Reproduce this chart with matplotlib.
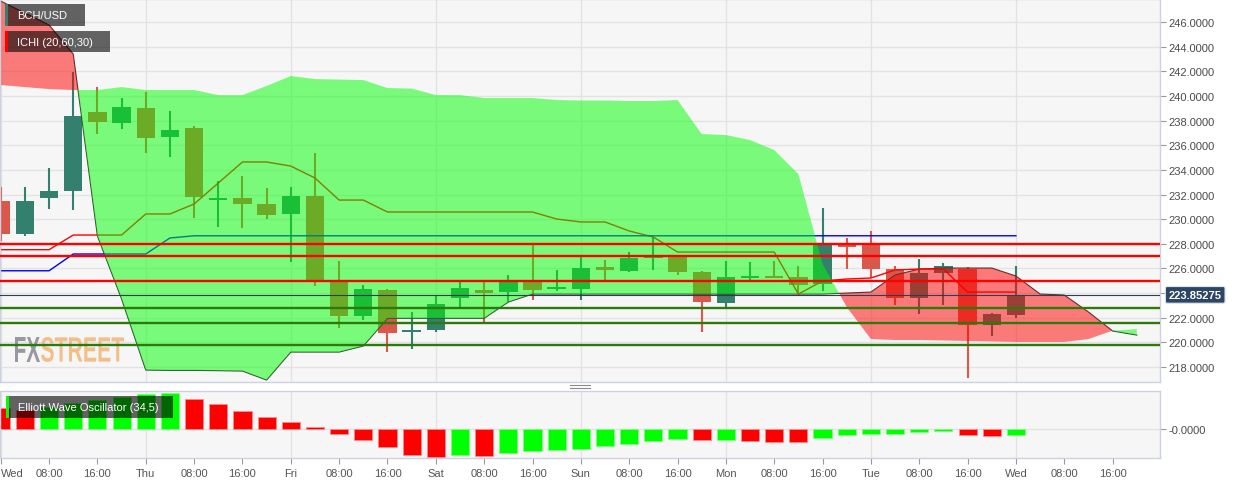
import numpy as np
import matplotlib
matplotlib.use("Agg")
import matplotlib.pyplot as plt
from matplotlib.patches import Rectangle, PathPatch
from matplotlib.lines import Line2D
from matplotlib.textpath import TextPath
from matplotlib.font_manager import FontProperties
from matplotlib.transforms import Affine2D, blended_transform_factory

W, H = 1244, 485

# 4h candles, index 0 = Wed 00:00
opens = [231.47, 228.79, 231.71, 232.31, 238.67, 237.80, 239.02, 236.64, 237.37, 231.60,
         231.71, 231.23, 230.42, 231.90, 224.92, 222.16, 224.27, 220.89, 221.00, 223.57,
         224.25, 224.06, 225.00, 224.33, 224.33, 226.09, 225.81, 226.87, 226.95, 225.68,
         223.19, 225.28, 225.36, 225.28, 224.73, 227.90, 227.92, 225.95, 223.57, 225.63,
         225.95, 221.43, 222.22]
closes = [228.79, 231.47, 232.26, 238.39, 237.91, 239.08, 236.56, 237.23, 231.77, 231.66,
          231.23, 230.33, 231.90, 225.06, 222.16, 224.33, 220.76, 220.95, 223.11, 224.38,
          224.03, 224.87, 224.27, 224.52, 226.01, 225.93, 226.84, 226.95, 225.73, 223.25,
          225.28, 225.36, 225.22, 224.68, 227.92, 227.85, 225.95, 223.60, 225.63, 226.22,
          221.43, 222.30, 223.85]
highs = [232.61, 232.61, 234.13, 241.97, 240.70, 239.83, 240.29, 238.75, 237.58, 233.12,
         233.48, 232.50, 232.58, 235.37, 226.58, 224.65, 224.33, 222.44, 223.87, 224.92,
         224.92, 225.46, 227.90, 225.89, 226.95, 226.68, 227.36, 228.52, 227.00, 225.75,
         226.63, 226.54, 226.63, 226.17, 230.90, 228.47, 229.01, 226.22, 226.76, 226.44,
         226.09, 222.35, 226.22]
lows = [228.22, 228.63, 230.82, 230.76, 236.91, 237.31, 235.37, 235.07, 230.07, 229.38,
        229.28, 230.01, 226.54, 224.60, 221.14, 221.84, 219.19, 219.46, 220.81, 222.89,
        221.63, 223.25, 223.46, 224.19, 223.46, 224.87, 225.73, 225.89, 225.46, 220.86,
        222.89, 224.87, 225.22, 223.92, 224.19, 225.95, 225.20, 223.05, 222.30, 223.05,
        217.08, 220.54, 221.95]

# ichimoku
tenkan = [227.52, 227.52, 227.52, 228.71, 228.71, 228.71, 230.42, 230.42, 231.23, 232.93,
          234.64, 234.64, 234.31, 233.34, 231.55, 231.55, 230.58, 230.58, 230.58, 230.58,
          230.58, 230.58, 230.58, 230.01, 229.77, 229.77, 229.04, 228.55, 227.33, 227.33,
          227.33, 227.33, 227.33, 223.92, 224.98, 225.14, 225.22, 225.87, 225.95, 225.95,
          224.08, 224.08, 224.08]
kijun = [225.81, 225.81, 225.81, 227.17, 227.17, 227.17, 227.17, 228.47] + [228.65] * 35
span_a = [247.70, 246.73, 245.76, 243.40, 228.63, 223.52, 217.75, 217.72, 217.72, 217.70,
          217.67, 216.94, 219.21, 219.21, 219.21, 219.70, 221.95, 221.95, 221.95, 221.95,
          221.95, 223.27, 223.92, 223.92, 223.92, 223.92, 223.92, 223.92, 223.92, 223.92,
          223.92, 223.92, 223.92, 223.92, 223.92, 224.00, 224.08, 225.46, 225.95, 226.03,
          226.03, 226.03, 225.38, 223.92, 223.84, 222.46, 220.92, 220.59]
span_b = [240.89, 240.72, 240.56, 240.48, 240.48, 240.72, 240.48, 240.48, 240.48, 240.07,
          240.07, 240.81, 241.62, 241.37, 241.33, 241.29, 240.64, 240.60, 240.07, 240.07,
          239.83, 239.83, 239.83, 239.67, 239.63, 239.63, 239.59, 239.59, 239.67, 236.91,
          236.83, 236.42, 235.61, 233.66, 226.36, 222.87, 220.27, 220.19, 220.19, 220.15,
          220.11, 220.07, 220.03, 220.03, 220.03, 220.27, 220.95, 221.08]

red_levels = [228.0, 227.0, 225.0]
green_levels = [222.8, 221.55, 219.8]
last_price = 223.85275

# elliott wave oscillator (34,5)
ewo = [4.57, 4.20, 4.90, 5.60, 6.30, 6.90, 7.52, 7.89, 6.59, 5.43,
       3.91, 2.61, 1.52, 0.43, -1.09, -2.33, -3.85, -5.65, -5.96, -5.65,
       -5.80, -5.22, -4.65, -4.43, -4.22, -3.70, -3.20, -2.61, -2.17, -2.33,
       -2.28, -2.48, -2.70, -2.75, -1.83, -1.30, -1.02, -1.00, -0.52, -0.50,
       -1.17, -1.46, -1.17]

days = ["Wed", "Thu", "Fri", "Sat", "Sun", "Mon", "Tue", "Wed"]
price_ticks = list(range(218, 247, 2))

TEAL = "#33806e"
RED = "#d9574b"
GRID = "#e3e3e3"
BORDER = "#cdd2e3"
BG = "#f6f6f6"

plt.rcParams["font.family"] = ["Liberation Sans", "DejaVu Sans"]

fig = plt.figure(figsize=(W / 100, H / 100), dpi=100)
ax = fig.add_axes([0, 1 - 383 / H, 1160 / W, 383 / H])
osc = fig.add_axes([0, 1 - 459 / H, 1160 / W, (459 - 392) / H], sharex=ax)

x0, x1 = -0.03, 47.96
day_pos = np.arange(0, 49, 6)

for a in (ax, osc):
    a.set_facecolor(BG)
    for s in a.spines.values():
        s.set_color(BORDER)
        s.set_linewidth(1)
    for d in day_pos:
        a.axvline(d, color=GRID, lw=1, zorder=0.3)

# price panel
o, c, h, l = map(np.array, (opens, closes, highs, lows))
idx = np.arange(len(o))
col = np.where(c >= o, TEAL, RED)
body = np.maximum(np.abs(c - o), 0.2)
bottom = np.minimum(o, c) - (body - np.abs(c - o)) / 2
ax.vlines(idx, l, h, colors=col, lw=1.5, zorder=1)
ax.bar(idx, body, bottom=bottom, width=0.76, color=col, lw=0, zorder=1.2)

ci = np.arange(len(span_a))
sa, sb = np.array(span_a), np.array(span_b)
ax.plot(ci, sa, color="#3a3a3a", lw=0.8, zorder=1.5)
ax.plot(idx, tenkan, color="#ff0000", lw=1, zorder=1.5)
ax.plot(idx, kijun, color="#0000ff", lw=1, zorder=1.5)
ax.fill_between(ci, sa, sb, where=sa >= sb, interpolate=True, color="#ff0000", alpha=0.5, lw=0, zorder=2)
ax.fill_between(ci, sa, sb, where=sb > sa, interpolate=True, color="#00ff00", alpha=0.5, lw=0, zorder=2)

for v in red_levels:
    ax.axhline(v, color="#ff0000", lw=1.7, zorder=3)
for v in green_levels:
    ax.axhline(v, color="#2b7a0b", lw=1.7, zorder=3)
ax.axhline(last_price, color="#2c3e50", lw=0.8, zorder=3)

ax.set_xlim(x0, x1)
ax.set_ylim(216.78, 247.87)
ax.yaxis.tick_right()
ax.set_yticks(price_ticks)
ax.set_yticklabels(["" if t == 224 else f"{t:.4f}" for t in price_ticks])
ax.yaxis.grid(True, color=GRID, lw=1, zorder=0.3)
ax.set_axisbelow(True)
ax.tick_params(axis="y", length=4, width=0.8, color="#999999", pad=2, labelsize=8, labelcolor="#4a4a4a")
ax.tick_params(axis="x", length=0, labelbottom=False)

tr = blended_transform_factory(ax.transAxes, ax.transData)
ax.text(1.0075, last_price, f"{last_price:.5f}", transform=tr, ha="left", va="center",
        fontsize=8, fontweight="bold", color="white", zorder=20, clip_on=False,
        bbox=dict(boxstyle="round,pad=0.3,rounding_size=0.15", fc="#2d4664", ec="#dfe5ee", lw=0.8))


# FXSTREET watermark
def logo_part(text, color, px0, px1, ptop, pbot):
    tp = TextPath((0, 0), text, size=40, prop=FontProperties(family="Liberation Sans", weight="bold"))
    ext = tp.get_extents()
    t = (Affine2D().translate(-ext.x0, -ext.y0)
         .scale((px1 - px0) / ext.width, (pbot - ptop) / ext.height)
         .translate(px0, H - pbot))
    ax.add_patch(PathPatch(tp, transform=t, fc=color, ec="none", alpha=0.9, zorder=0.8))


logo_part("FX", "#8d8e99", 15, 40, 338, 363)
logo_part("STREET", "#f2b97f", 41, 124, 338, 363)

# oscillator panel
e = np.array(ewo)
rising = np.diff(e, prepend=e[0] + 0.1) > 0
osc.bar(idx, e, width=0.75, color=np.where(rising, "#00ff00", "#ff0000"),
        edgecolor=np.where(rising, "#7dff7d", "#ff8a8a"), lw=0.6, zorder=2)
osc.set_ylim(-6.24, 8.26)
osc.axhline(0, color=GRID, lw=1, zorder=0.3)
osc.yaxis.tick_right()
osc.set_yticks([0])
osc.set_yticklabels(["-0.0000"])
osc.tick_params(axis="y", length=4, width=0.8, color="#999999", pad=2, labelsize=8, labelcolor="#4a4a4a")

xt = np.arange(0, 48, 2)
labels = [days[int(t) // 6] if t % 6 == 0 else ("08:00" if t % 6 == 2 else "16:00") for t in xt]
osc.set_xticks(xt)
osc.set_xticklabels(labels)
osc.tick_params(axis="x", length=4, width=0.8, color="#999999", pad=3, labelsize=8, labelcolor="#555555")
osc.get_xticklabels()[0].set_ha("left")
osc.set_xlim(x0, x1)


# legend tags top-left
def tag(px0, py0, px1, py1, stripe, text):
    fig.add_artist(Rectangle((px0 / W, 1 - py1 / H), (px1 - px0) / W, (py1 - py0) / H,
                             transform=fig.transFigure, fc="black", alpha=0.6, lw=0))
    fig.add_artist(Rectangle((px0 / W, 1 - py1 / H), 3 / W, (py1 - py0) / H,
                             transform=fig.transFigure, fc=stripe, lw=0))
    fig.text((px0 + 12) / W, 1 - (py0 + py1) / 2 / H, text, color="white", fontsize=8,
             ha="left", va="center")


tag(5, 5, 85, 27, TEAL, "BCH/USD")
tag(5, 32, 110, 53, "#ff0000", "ICHI (20,60,30)")
tag(6, 397, 173, 419, "#00ff00", "Elliott Wave Oscillator (34,5)")

# panel splitter handle
for yy in (386, 388.5):
    fig.add_artist(Line2D([570 / W, 590 / W], [1 - yy / H, 1 - yy / H], color="#8a8a8a", lw=0.8))

fig.savefig("out.png", dpi=100, facecolor="white")
